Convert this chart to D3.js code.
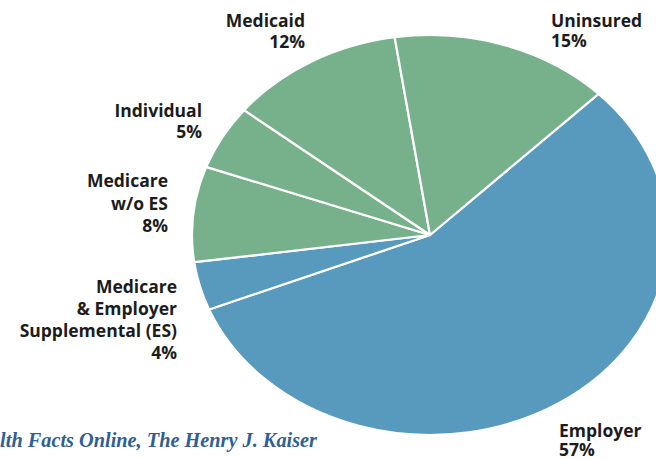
<!DOCTYPE html>
<html><head><meta charset="utf-8">
<script src="https://cdn.jsdelivr.net/npm/d3@7"></script>
<style>
html,body{margin:0;padding:0;background:#fff;}
text.lbl{font-family:"Open Sans",sans-serif;font-weight:700;fill:#1c1c1c;}
</style></head>
<body>
<svg id="c" width="656" height="459"></svg>
<script>
const categories = ["Employer","Medicare & Employer Supplemental (ES)","Medicare w/o ES","Individual","Medicaid","Uninsured"];
const values = [56.4, 3.9, 7.7, 5.2, 11.9, 14.9];
const pctLabels = ["57%","4%","8%","5%","12%","15%"];
const groups = ["blue","blue","green","green","green","green"];
const labelLines = [
  ["Employer","57%"],
  ["Medicare","& Employer","Supplemental (ES)","4%"],
  ["Medicare","w/o ES","8%"],
  ["Individual","5%"],
  ["Medicaid","12%"],
  ["Uninsured","15%"]
];
const sourceText = "Health Facts Online, The Henry J. Kaiser";

const W=656,H=459, cx=430, cy=235, ry=200, rx=238;
const svg=d3.select("#c");
const color=d3.scaleOrdinal().domain(["blue","green"]).range(["#5899be","#77b18b"]);
const start=45.1*Math.PI/180;
const pie=d3.pie().sort(null).value(d=>d).startAngle(start).endAngle(start+2*Math.PI);
const arcs=pie(values);
const arc=d3.arc().innerRadius(0).outerRadius(ry);
const g=svg.append("g").attr("transform",`translate(${cx},${cy}) scale(${rx/ry},1)`);
g.selectAll("path").data(arcs).join("path")
  .attr("d",arc)
  .attr("fill",(d,i)=>color(groups[i]))
  .attr("stroke","#fff").attr("stroke-width",2.2)
  .attr("vector-effect","non-scaling-stroke")
  .attr("stroke-linejoin","round");

const labelPos = [
  {x:559,y:437,lh:18.5,a:"start"},
  {x:177,y:293,lh:22,a:"end"},
  {x:168,y:187,lh:22.5,a:"end"},
  {x:202,y:117,lh:21,a:"end"},
  {x:305,y:27,lh:20.5,a:"end"},
  {x:551,y:27,lh:19.5,a:"start"}
];
labelLines.forEach((lines,i)=>{
  const p=labelPos[i];
  const t=svg.append("text").attr("class","lbl").attr("text-anchor",p.a).attr("font-size",17.5);
  lines.forEach((s,j)=>{
    t.append("tspan").attr("x",p.x).attr("y",p.y+j*p.lh).text(s);
  });
});

const src=svg.append("text")
  .attr("x",317).attr("y",447).attr("text-anchor","end")
  .style("font-family","'Liberation Serif','DejaVu Serif',serif")
  .style("font-style","italic").style("font-weight","700")
  .style("fill","#2f5f93").attr("font-size",17)
  .text(sourceText);
// scale so that the visible part "th Facts..." spans from x=0 to 317
const full=src.node().getComputedTextLength();
const tmp=svg.append("text").style("font-family","'Liberation Serif','DejaVu Serif',serif")
  .style("font-style","italic").style("font-weight","700").attr("font-size",17).text(sourceText.slice(3));
const part=tmp.node().getComputedTextLength(); tmp.remove();
src.attr("font-size",17*317/part);
</script>
</body></html>
